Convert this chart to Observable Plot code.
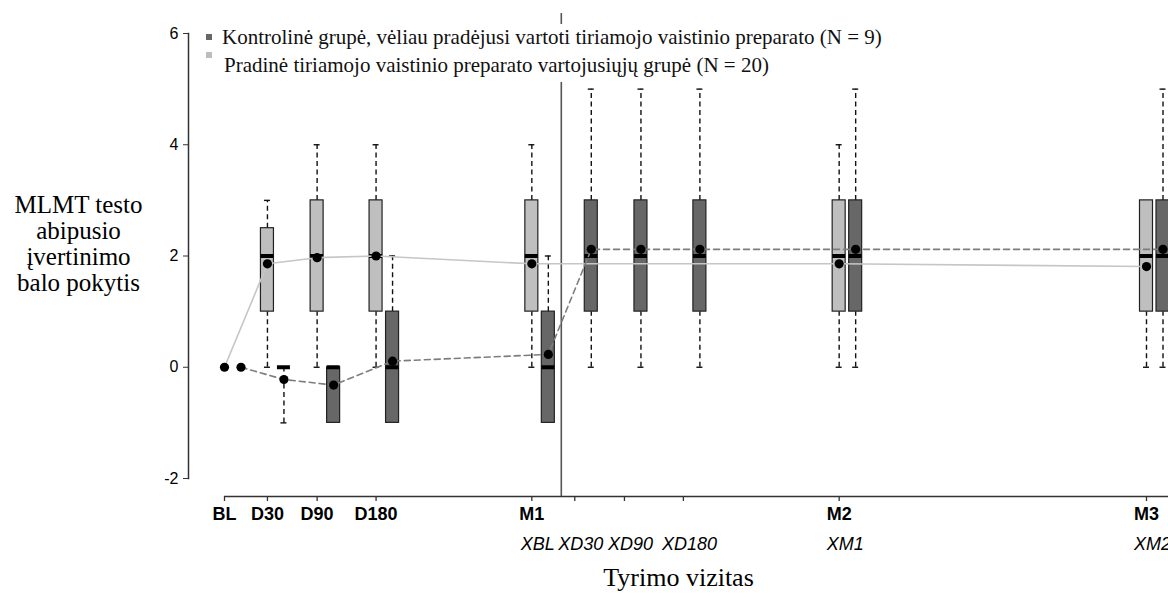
<!DOCTYPE html>
<html>
<head>
<meta charset="utf-8">
<script src="https://cdn.jsdelivr.net/npm/d3@7"></script>
<script src="https://cdn.jsdelivr.net/npm/@observablehq/plot@0.6"></script>
<style>
  body { margin: 0; background: #fff; }
  #wrap { position: relative; width: 1168px; height: 598px; overflow: hidden; }
  #legend { position: absolute; left: 196px; top: 24px; width: 720px; height: 58px; background: #fff;
            font-family: "Liberation Serif", "Times New Roman", serif; font-size: 21px; color: #111; }
  #legend .sw { position: absolute; width: 6px; height: 6px; }
  #legend .tx { position: absolute; white-space: nowrap; line-height: 21px; }
</style>
</head>
<body>
<div id="wrap"><div id="chart"></div><div id="legend"></div></div>
<script>
// ---------- data ----------
const yTicks = [-2, 0, 2, 4, 6];
const visitLabels = ["BL", "D30", "D90", "D180", "M1", "M2", "M3"];
const visitDays   = [0, 51, 110, 180, 365, 730, 1095];
const crossLabels = ["XBL", "XD30", "XD90", "XD180", "XM1", "XM2"];
const crossDays   = [365, 416, 475, 545, 730, 1095];
const crossoverDay = 400;
const baselineDay = 0;
const baselineMean = 0;

// Initial treatment group (light, N = 20)
const treatName = "Pradinė tiriamojo vaistinio preparato vartojusiųjų grupė (N = 20)";
const treatDays = [51, 110, 180, 365, 730, 1095];
const treatMin  = [0, 0, 0, 0, 0, 0];
const treatQ1   = [1, 1, 1, 1, 1, 1];
const treatMed  = [2, 2, 2, 2, 2, 2];
const treatQ3   = [2.5, 3, 3, 3, 3, 3];
const treatMax  = [3, 4, 4, 4, 4, 3];
const treatMean = [1.86, 1.97, 2.0, 1.86, 1.86, 1.81];

// Control group, later crossed over (dark, N = 9)
const ctrlName = "Kontrolinė grupė, vėliau pradėjusi vartoti tiriamojo vaistinio preparato (N = 9)";
const ctrlDays = [51, 110, 180, 365, 416, 475, 545, 730, 1095];
const ctrlMin  = [-1, -1, -1, -1, 0, 0, 0, 0, 0];
const ctrlQ1   = [0, -1, -1, -1, 1, 1, 1, 1, 1];
const ctrlMed  = [0, 0, 0, 0, 2, 2, 2, 2, 2];
const ctrlQ3   = [0, 0, 1, 1, 3, 3, 3, 3, 3];
const ctrlMax  = [0, 0, 2, 2, 5, 5, 5, 5, 5];
const ctrlMean = [-0.22, -0.32, 0.11, 0.23, 2.12, 2.12, 2.12, 2.12, 2.12];

const yTitle = "MLMT testo\nabipusio\nįvertinimo\nbalo pokytis";
const xTitle = "Tyrimo vizitas";

const lightFill = "#bfbfbf";
const darkFill = "#676767";

// ---------- build tables ----------
const mk = (days, mn, q1, md, q3, mx, mean) =>
  days.map((d, i) => ({day: d, min: mn[i], q1: q1[i], med: md[i], q3: q3[i], max: mx[i], mean: mean[i]}));
const treat = mk(treatDays, treatMin, treatQ1, treatMed, treatQ3, treatMax, treatMean);
const ctrl = mk(ctrlDays, ctrlMin, ctrlQ1, ctrlMed, ctrlQ3, ctrlMax, ctrlMean);
const treatLine = [{day: baselineDay, mean: baselineMean}, ...treat];
const ctrlLine = [{day: baselineDay, mean: baselineMean}, ...ctrl];
const visitTable = visitLabels.map((l, i) => ({label: l, day: visitDays[i]}));
const crossTable = crossLabels.map((l, i) => ({label: l, day: crossDays[i]}));
const tickDays = Array.from(new Set([...visitDays, ...crossDays]));
const yMin = yTicks[0];
const DX = 16.5; // side-by-side offset of the control group

function boxMarks(data, fill, dx) {
  const upper = data.filter(d => d.max > d.q3);
  const lower = data.filter(d => d.min < d.q1);
  const w = {stroke: "#111", strokeWidth: 1.4, dx};
  return [
    Plot.ruleX(upper, {x: "day", y1: "q3", y2: "max", strokeDasharray: "5,3.5", ...w}),
    Plot.ruleX(lower, {x: "day", y1: "min", y2: "q1", strokeDasharray: "5,3.5", ...w}),
    Plot.ruleY(upper, {y: "max", x1: "day", x2: "day", insetLeft: -3, insetRight: -3, ...w}),
    Plot.ruleY(lower, {y: "min", x1: "day", x2: "day", insetLeft: -3, insetRight: -3, ...w}),
    Plot.rect(data, {x1: "day", x2: "day", y1: "q1", y2: "q3", insetLeft: -6.5, insetRight: -6.5,
                     fill, stroke: "#222", strokeWidth: 1.2, dx}),
    Plot.ruleY(data, {y: "med", x1: "day", x2: "day", insetLeft: -6.5, insetRight: -6.5,
                      stroke: "#000", strokeWidth: 4, dx})
  ];
}

const sans = "Liberation Sans, Arial, sans-serif";
const serif = "Liberation Serif, Times New Roman, serif";

const chart = Plot.plot({
  width: 1168,
  height: 598,
  marginLeft: 188,
  marginRight: 0,
  marginTop: 33,
  marginBottom: 120,
  style: {background: "#fff", color: "#000"},
  x: {type: "linear", domain: [visitDays[0], visitDays[visitDays.length - 1]], range: [224, 1146], axis: null},
  y: {domain: [yTicks[0], yTicks[yTicks.length - 1]], axis: null},
  marks: [
    // y axis
    Plot.frame({anchor: "left", stroke: "#333", strokeWidth: 1.5}),
    Plot.axisY(yTicks, {tickSize: 5, tickPadding: 5, fontSize: 16, fontFamily: sans, label: null, stroke: "#333",
                        tickFormat: d => String(d)}),
    // x axis
    Plot.ruleY([yMin], {x1: visitDays[0], x2: visitDays[visitDays.length - 1], insetRight: -40, dy: 18, stroke: "#333", strokeWidth: 1.5}),
    Plot.ruleX(tickDays, {x: d => d, y1: yMin, y2: yMin, insetBottom: -5, dy: 18, stroke: "#333", strokeWidth: 1.3}),
    Plot.text(visitTable, {x: "day", y: yMin, text: "label", dy: 36, fontWeight: "bold", fontSize: 18, fontFamily: sans, fill: "#000"}),
    Plot.text(crossTable, {x: "day", y: yMin, text: "label", dy: 66, dx: 6, fontStyle: "italic", fontSize: 18, fontFamily: sans, fill: "#000"}),
    // titles
    Plot.text([yTitle], {frameAnchor: "left", text: d => d, dx: -110, dy: -12, textAnchor: "middle", lineHeight: 1.04, fontSize: 25, fontFamily: serif, fill: "#000"}),
    Plot.text([xTitle], {frameAnchor: "bottom", text: d => d, dy: 107, fontSize: 26, fontFamily: serif, fill: "#000"}),
    // crossover line
    Plot.ruleX([crossoverDay], {x: d => d, insetTop: -20, insetBottom: -18, stroke: "#555", strokeWidth: 1.6}),
    // boxes
    ...boxMarks(treat, lightFill, 0),
    ...boxMarks(ctrl, darkFill, DX),
    // mean lines
    Plot.line(treatLine, {x: "day", y: "mean", stroke: "#c6c6c6", strokeWidth: 1.6}),
    Plot.line(ctrlLine, {x: "day", y: "mean", stroke: "#7d7d7d", strokeWidth: 1.6, strokeDasharray: "6,4", dx: DX}),
    // means
    Plot.dot(treatLine, {x: "day", y: "mean", r: 4.6, fill: "#000"}),
    Plot.dot(ctrlLine, {x: "day", y: "mean", r: 4.6, fill: "#000", dx: DX})
  ]
});
document.getElementById("chart").appendChild(chart);

// legend
const legend = document.getElementById("legend");
const items = [
  {name: ctrlName, color: darkFill, sw: [9.5, 10], tx: [26, 3]},
  {name: treatName, color: "#bdbdbd", sw: [9.5, 28], tx: [28, 31]}
];
for (const it of items) {
  const s = document.createElement("div");
  s.className = "sw"; s.style.background = it.color;
  s.style.left = it.sw[0] + "px"; s.style.top = it.sw[1] + "px";
  legend.appendChild(s);
  const t = document.createElement("div");
  t.className = "tx"; t.textContent = it.name;
  t.style.left = it.tx[0] + "px"; t.style.top = it.tx[1] + "px";
  legend.appendChild(t);
}
</script>
</body>
</html>
